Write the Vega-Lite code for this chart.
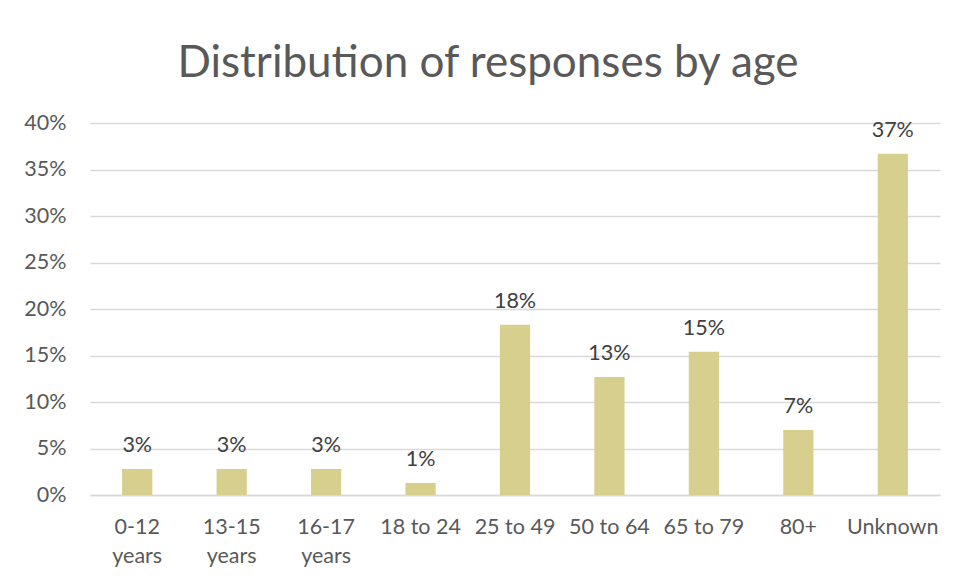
{
  "$schema": "https://vega.github.io/schema/vega-lite/v6.json",
  "autosize": {"type": "none"},
  "width": 850,
  "height": 372,
  "padding": {"left": 90, "top": 123, "right": 17, "bottom": 84},
  "background": "white",
  "title": {
    "text": "Distribution of responses by age",
    "anchor": "middle",
    "frame": "group",
    "dx": -27,
    "offset": 26,
    "fontSize": 44,
    "font": "Lato",
    "fontWeight": "normal",
    "color": "#595959"
  },
  "data": {
    "values": [
      {"age": "0-12 years", "share": 0.028},
      {"age": "13-15 years", "share": 0.028},
      {"age": "16-17 years", "share": 0.028},
      {"age": "18 to 24", "share": 0.013},
      {"age": "25 to 49", "share": 0.183},
      {"age": "50 to 64", "share": 0.127},
      {"age": "65 to 79", "share": 0.154},
      {"age": "80+", "share": 0.070},
      {"age": "Unknown", "share": 0.367}
    ]
  },
  "encoding": {
    "x": {
      "field": "age",
      "type": "nominal",
      "sort": null,
      "scale": {"paddingInner": 0.68, "paddingOuter": 0.34},
      "axis": {
        "title": null,
        "labelAngle": 0,
        "labelFont": "Lato",
        "labelFontSize": 21.5,
        "labelColor": "#595959",
        "labelPadding": 21,
        "labelLineHeight": 29,
        "labelBaseline": "top",
        "ticks": false,
        "domain": true,
        "domainColor": "#d9d9d9",
        "domainWidth": 1.5,
        "labelExpr": "indexof(datum.label, 'years') > 0 ? split(datum.label, ' ') : datum.label"
      }
    },
    "y": {
      "field": "share",
      "type": "quantitative",
      "scale": {"domain": [0, 0.4], "nice": false},
      "axis": {
        "title": null,
        "format": ".0%",
        "values": [0, 0.05, 0.1, 0.15, 0.2, 0.25, 0.3, 0.35, 0.4],
        "labelFont": "Lato",
        "labelFontSize": 21.5,
        "labelColor": "#595959",
        "labelPadding": 24,
        "ticks": false,
        "domain": false,
        "grid": true,
        "gridColor": "#d9d9d9",
        "gridWidth": 1.5
      }
    }
  },
  "layer": [
    {"mark": {"type": "bar", "color": "#d7cf8d"}},
    {
      "mark": {"type": "text", "baseline": "alphabetic", "dy": -17, "font": "Lato", "fontSize": 21.5, "color": "#404040"},
      "encoding": {"text": {"field": "share", "format": ".0%"}}
    }
  ],
  "config": {"view": {"stroke": null}}
}
